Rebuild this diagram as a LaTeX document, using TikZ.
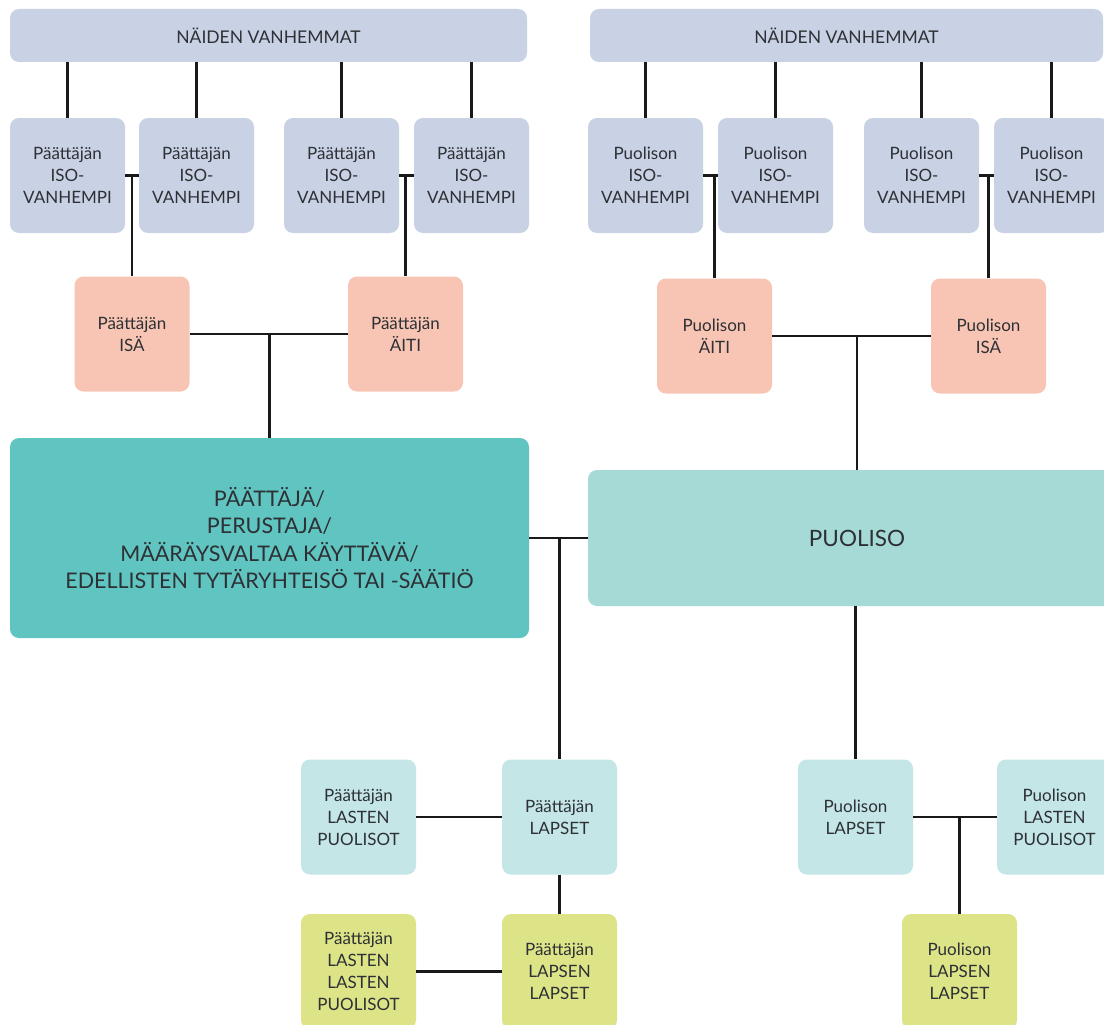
\documentclass[tikz,border=0pt]{standalone}
\usepackage{fontspec}
\setmainfont{Lato}
\usetikzlibrary{positioning}

\definecolor{isoblue}{RGB}{201,209,229}
\definecolor{parentpink}{RGB}{248,197,180}
\definecolor{mainteal}{RGB}{96,196,192}
\definecolor{spouseteal}{RGB}{166,218,214}
\definecolor{childteal}{RGB}{196,230,230}
\definecolor{grandgreen}{RGB}{221,228,136}
\definecolor{textgrey}{RGB}{45,48,52}
\definecolor{linegrey}{RGB}{25,25,25}

\tikzset{
  box/.style={rounded corners=9pt, minimum width=115pt, minimum height=115pt,
    inner sep=0pt, align=center, text=textgrey, font=\fontsize{17}{22}\selectfont},
  isobox/.style={box, fill=isoblue},
  parentbox/.style={box, fill=parentpink},
  childbox/.style={box, fill=childteal},
  grandbox/.style={box, fill=grandgreen},
  bar/.style={box, fill=isoblue, minimum height=53pt, font=\fontsize{17.5}{22}\selectfont},
  link/.style={draw=linegrey, line width=2.2pt}
}

\begin{document}
\begin{tikzpicture}[x=1pt,y=-1pt]
    \useasboundingbox[fill=white] (0,0) rectangle (1104,1025);

                % ylin rivi
                \node[bar, minimum width=517pt] (barL) at (268.5,35.5) {NÄIDEN VANHEMMAT};
                \node[bar, minimum width=513pt] (barR) at (846.5,35.5) {NÄIDEN VANHEMMAT};

                % isovanhemmat
                \node[isobox] (gpA) at (67.5,175.5) {Päättäjän\\ISO-\\VANHEMPI};
                \node[isobox] (gpB) at (196.5,175.5) {Päättäjän\\ISO-\\VANHEMPI};
                \node[isobox] (gpC) at (341.5,175.5) {Päättäjän\\ISO-\\VANHEMPI};
                \node[isobox] (gpD) at (471.5,175.5) {Päättäjän\\ISO-\\VANHEMPI};
                \node[isobox] (gpE) at (645.5,175.5) {Puolison\\ISO-\\VANHEMPI};
                \node[isobox] (gpF) at (775.5,175.5) {Puolison\\ISO-\\VANHEMPI};
                \node[isobox] (gpG) at (921.5,175.5) {Puolison\\ISO-\\VANHEMPI};
                \node[isobox] (gpH) at (1051.5,175.5) {Puolison\\ISO-\\VANHEMPI};

                % vanhemmat
                \node[parentbox] (pIsa) at (132,334) {Päättäjän\\ISÄ};
                \node[parentbox] (pAiti) at (405.5,334) {Päättäjän\\ÄITI};
                \node[parentbox] (sAiti) at (714.5,336) {Puolison\\ÄITI};
                \node[parentbox] (sIsa) at (988.5,336) {Puolison\\ISÄ};

                % paattaja ja puoliso
                \node[box, fill=mainteal, minimum width=519pt, minimum height=200pt,
                      font=\fontsize{21.5}{27.5}\selectfont] (main) at (269.5,538)
                      {PÄÄTTÄJÄ/\\PERUSTAJA/\\MÄÄRÄYSVALTAA KÄYTTÄVÄ/\\EDELLISTEN TYTÄRYHTEISÖ TAI -SÄÄTIÖ};
                \node[box, fill=spouseteal, minimum width=538pt, minimum height=136pt,
                      font=\fontsize{22.5}{27.5}\selectfont] (puoliso) at (857,538) {PUOLISO};

                % lapset
                \node[childbox] (pPuolisot) at (358.5,817) {Päättäjän\\LASTEN\\PUOLISOT};
                \node[childbox] (pLapset) at (559.5,817) {Päättäjän\\LAPSET};
                \node[childbox] (sLapset) at (855.5,817) {Puolison\\LAPSET};
                \node[childbox] (sPuolisot) at (1054.5,817) {Puolison\\LASTEN\\PUOLISOT};

                % lastenlapset
                \node[grandbox] (pLLPuolisot) at (358.5,971.5) {Päättäjän\\LASTEN\\LASTEN\\PUOLISOT};
                \node[grandbox] (pLLapset) at (559.5,971.5) {Päättäjän\\LAPSEN\\LAPSET};
                \node[grandbox] (sLLapset) at (959.5,971.5) {Puolison\\LAPSEN\\LAPSET};

                % yhteydet ylarivista
                \foreach \g/\b in {gpA/barL, gpB/barL, gpC/barL, gpD/barL, gpE/barR, gpF/barR, gpG/barR, gpH/barR}
                    \draw[link] (\g.north) -- (\g.north |- \b.south);

                \draw[link] (gpA.east) -- (gpB.west);
                \draw[link] (pIsa.north) -- (pIsa.north |- gpA.east);
                \draw[link] (gpC.east) -- (gpD.west);
                \draw[link] (pAiti.north) -- (pAiti.north |- gpC.east);
                \draw[link] (gpE.east) -- (gpF.west);
                \draw[link] (sAiti.north) -- (sAiti.north |- gpE.east);
                \draw[link] (gpG.east) -- (gpH.west);
                \draw[link] (sIsa.north) -- (sIsa.north |- gpG.east);

                \draw[link] (pIsa.east) -- (pAiti.west);
                \draw[link] (main.north) -- (main.north |- pIsa.east);
                \draw[link] (sAiti.east) -- (sIsa.west);
                \draw[link] (puoliso.north) -- (puoliso.north |- sAiti.east);

                \draw[link] (main.east) -- (puoliso.west);
                \draw[link] (pLapset.north) -- (pLapset.north |- main.east);
                \draw[link] (sLapset.north) -- (sLapset.north |- puoliso.south);

                \draw[link] (pPuolisot.east) -- (pLapset.west);
                \draw[link] (pLapset.south) -- (pLLapset.north);
                \draw[link] (pLLPuolisot.east) -- (pLLapset.west);
                \draw[link] (sLapset.east) -- (sPuolisot.west);
                \draw[link] (sLLapset.north) -- (sLLapset.north |- sLapset.east);

            \end{tikzpicture}
\end{document}
